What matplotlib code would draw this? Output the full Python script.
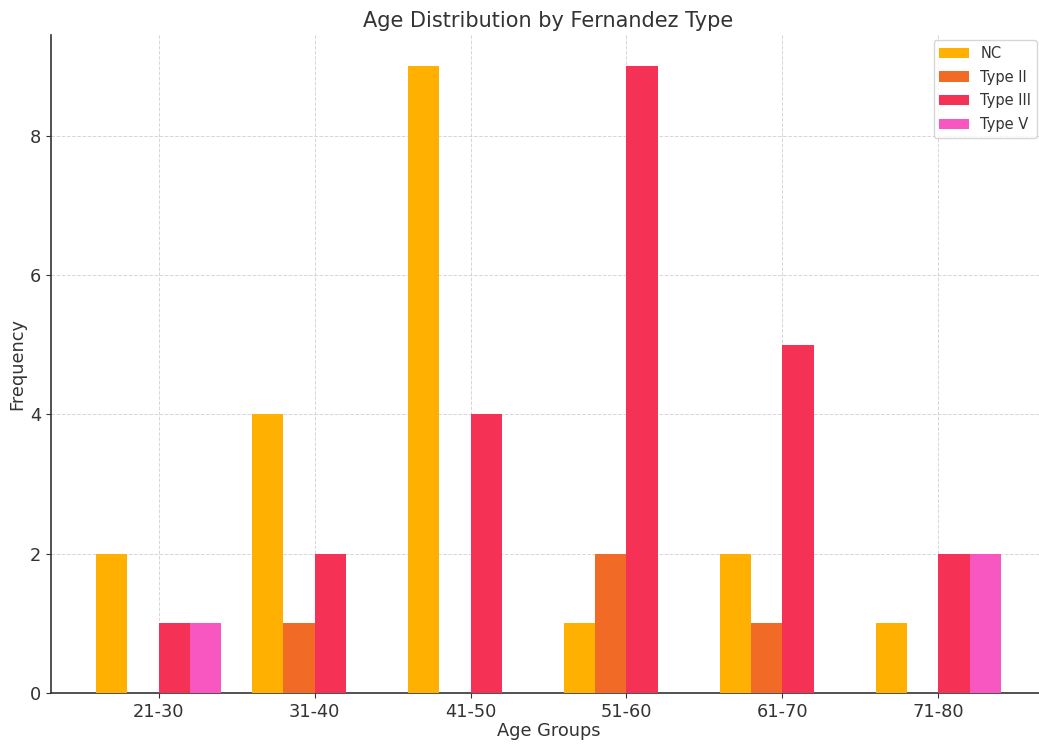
import matplotlib
matplotlib.use("Agg")
import matplotlib.pyplot as plt
import numpy as np

categories = ["21-30", "31-40", "41-50", "51-60", "61-70", "71-80"]
series_names = ["NC", "Type II", "Type III", "Type V"]
nc = [2, 4, 9, 1, 2, 1]
type_ii = [0, 1, 0, 2, 1, 0]
type_iii = [1, 2, 4, 9, 5, 2]
type_v = [1, 0, 0, 0, 0, 2]
colors = ["#FFB000", "#F26B26", "#F53155", "#F857C1"]

text_color = "#333333"
plt.rcParams['font.family'] = ['DejaVu Sans']
plt.rcParams['text.color'] = text_color
plt.rcParams['axes.labelcolor'] = text_color
plt.rcParams['xtick.color'] = text_color
plt.rcParams['ytick.color'] = text_color

fig = plt.figure(figsize=(10.39, 7.44), dpi=100)
W, H = 1039, 744
ax = fig.add_axes([51 / W, 51 / H, (1046 - 51) / W, (693 - 35) / H])

x = np.arange(len(categories))
width = 0.2
data = [nc, type_ii, type_iii, type_v]
offsets = [-1.5, -0.5, 0.5, 1.5]
for vals, name, col, off in zip(data, series_names, colors, offsets):
    ax.bar(x + off * width, vals, width, label=name, color=col, zorder=3)

ax.set_xticks(x)
ax.set_xticklabels(categories, fontsize=12.8)
ax.tick_params(axis='y', labelsize=12.8)
ax.set_yticks([0, 2, 4, 6, 8])
ax.set_xlim(-0.69, 5.69)
ax.set_ylim(0, 9.45)
ax.set_xlabel("Age Groups", fontsize=12.8, labelpad=1)
ax.set_ylabel("Frequency", fontsize=12.8, labelpad=3)
ax.set_title("Age Distribution by Fernandez Type", fontsize=15, color=text_color, pad=6)
ax.grid(True, linestyle='--', color='#cccccc', linewidth=0.7, alpha=0.8, zorder=0)
ax.set_axisbelow(True)
for s in ['top', 'right']:
    ax.spines[s].set_visible(False)
for s in ['left', 'bottom']:
    ax.spines[s].set_color('#333333')
    ax.spines[s].set_linewidth(1.2)

leg = ax.legend(loc='upper right', bbox_to_anchor=(1037 / W, (744 - 40) / H),
                bbox_transform=fig.transFigure, fontsize=10.5, frameon=True,
                borderaxespad=0, labelspacing=0.6)
leg.get_frame().set_edgecolor('#cccccc')

fig.savefig("out.png", dpi=100)
